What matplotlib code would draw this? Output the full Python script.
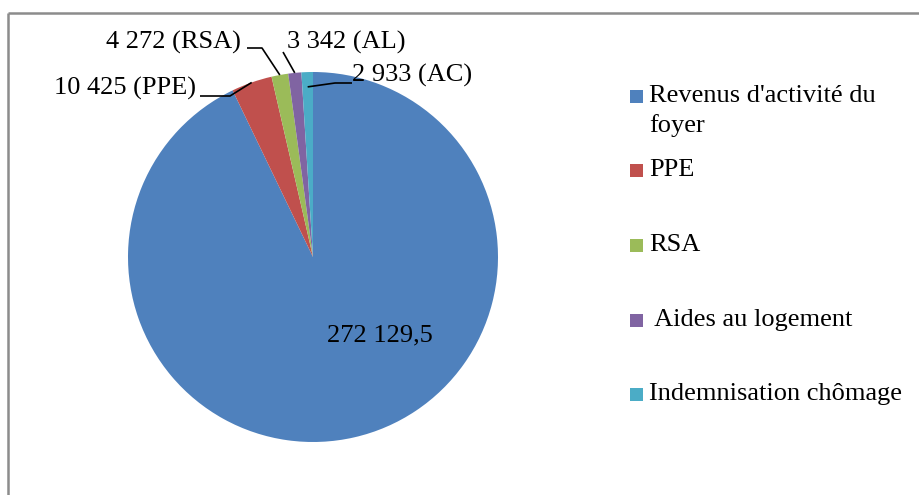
import numpy as np
import matplotlib
matplotlib.use("Agg")
import matplotlib.pyplot as plt
from matplotlib.patches import Rectangle

# Composition of household disposable income (values in euros)
categories = ["Revenus d'activité du\nfoyer", "PPE", "RSA", " Aides au logement", "Indemnisation chômage"]
values = [272129.5, 10425, 4272, 3342, 2933]
short_names = [None, "PPE", "RSA", "AL", "AC"]
colors = ["#4F81BD", "#C0504D", "#9BBB59", "#8064A2", "#4BACC6"]

W, H = 919, 495
plt.rcParams["font.family"] = ["Liberation Serif", "DejaVu Serif"]
FS = 19

fig = plt.figure(figsize=(W / 100, H / 100), dpi=100)
ax = fig.add_axes([0, 0, 1, 1])


def py(y):
    """Top-down pixel row to data y."""
    return H - y


cx, cy, R = 313, 257, 185
wedges, _ = ax.pie(values, colors=colors, startangle=90, counterclock=False,
                   radius=R, center=(cx, py(cy)), frame=True,
                   wedgeprops=dict(linewidth=0))
ax.set_xlim(0, W)
ax.set_ylim(0, H)
ax.set_aspect("equal")
ax.axis("off")


def fmt(v):
    if float(v).is_integer():
        return f"{int(v):,}".replace(",", " ")
    return f"{v:,.1f}".replace(",", " ").replace(".", ",")


# value of the main slice, inside the pie
ax.text(380, py(335), fmt(values[0]), ha="center", va="center", fontsize=FS)

# outside labels with leader lines
label_layout = {
    1: dict(text=(196, 88), ha="right", path=[(200, 96), (230, 96)], rf=1.0),
    2: dict(text=(241, 42), ha="right", path=[(247, 48), (262, 48)], rf=1.0),
    3: dict(text=(287, 42), ha="left", path=[(283, 52)], rf=1.0),
    4: dict(text=(352, 75), ha="left", path=[(352, 83), (335, 83)], rf=0.92),
}
for i, lay in label_layout.items():
    w = wedges[i]
    mid = np.deg2rad((w.theta1 + w.theta2) / 2)
    ex = cx + lay["rf"] * R * np.cos(mid)
    ey = py(cy) + lay["rf"] * R * np.sin(mid)
    pts = [(x, py(y)) for x, y in lay["path"]] + [(ex, ey)]
    xs, ys = zip(*pts)
    ax.plot(xs, ys, color="black", lw=1.2, solid_capstyle="butt")
    tx, ty = lay["text"]
    ax.text(tx, py(ty), f"{fmt(values[i])} ({short_names[i]})", ha=lay["ha"],
            va="center", fontsize=FS)

# legend
leg_rows = [96, 170, 245, 320, 394]
for lab, col, yr in zip(categories, colors, leg_rows):
    ax.add_patch(Rectangle((630, py(yr) - 6.5), 13, 13, color=col, lw=0))
    for k, line in enumerate(lab.split("\n")):
        ax.text(649, py(yr + 30 * k), line, ha="left", va="center", fontsize=FS)

# chart area frame (top and left edges)
ax.plot([8, W], [py(12.5), py(12.5)], color="#8c8c8c", lw=1.8, solid_capstyle="butt")
ax.plot([8, 8], [py(12.5), 0], color="#8c8c8c", lw=1.8, solid_capstyle="butt")

fig.savefig("out.png", dpi=100)
